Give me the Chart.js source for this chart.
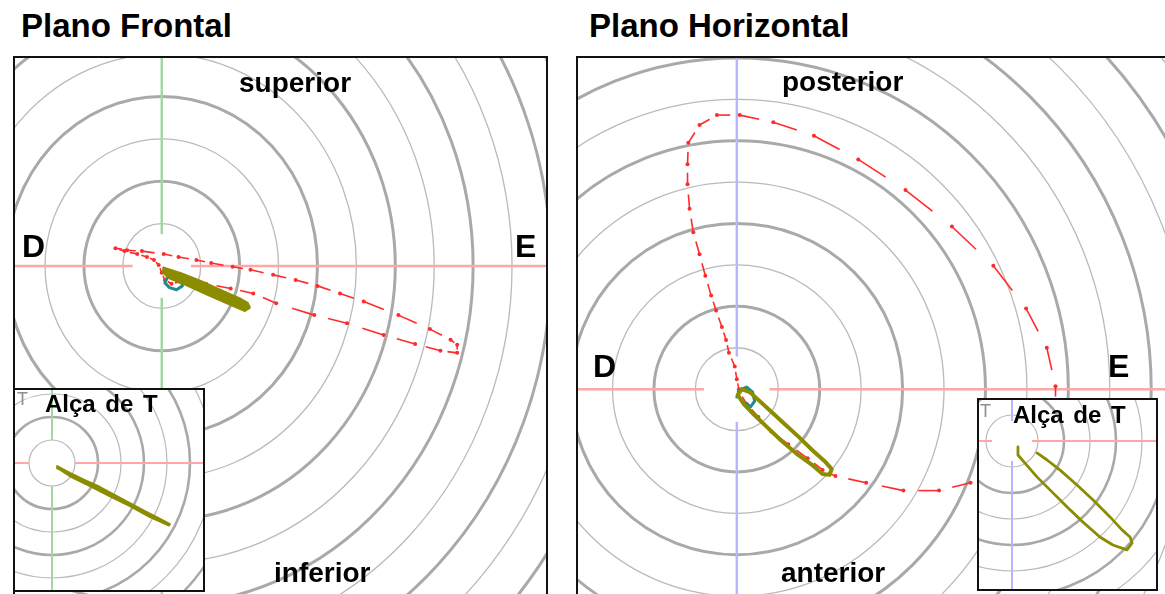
<!DOCTYPE html>
<html>
<head>
<meta charset="utf-8">
<script src="https://cdn.jsdelivr.net/npm/chart.js@4.4.1/dist/chart.umd.min.js"></script>
<style>
  html, body { margin: 0; padding: 0; background: #fff; }
  body { width: 1165px; height: 594px; overflow: hidden; position: relative; font-family: 'Liberation Sans', Arial, sans-serif; }
  canvas { position: absolute; display: block; }
  .lbl { position: absolute; font-weight: bold; line-height: 1; white-space: pre; color: #000; }
  .t { position: absolute; line-height: 1; color: #8e8e96; font-size: 18px; }
</style>
</head>
<body>
<canvas id="cF" width="543" height="560" style="left:9px;top:52px"></canvas>
<canvas id="cH" width="600" height="560" style="left:572px;top:52px"></canvas>
<canvas id="cFt" width="192" height="204" style="left:13px;top:388px"></canvas>
<canvas id="cHt" width="181" height="193" style="left:977px;top:398px"></canvas>

<div class="lbl" style="left:21px;top:9px;font-size:33px">Plano Frontal</div>
<div class="lbl" style="left:589px;top:9px;font-size:33px">Plano Horizontal</div>
<div class="lbl" style="left:239px;top:69px;font-size:28px">superior</div>
<div class="lbl" style="left:274px;top:559px;font-size:28px">inferior</div>
<div class="lbl" style="left:782px;top:68px;font-size:28px">posterior</div>
<div class="lbl" style="left:781px;top:559px;font-size:28px">anterior</div>
<div class="lbl" style="left:22px;top:230px;font-size:32px">D</div>
<div class="lbl" style="left:515px;top:230px;font-size:32px">E</div>
<div class="lbl" style="left:593px;top:350px;font-size:32px">D</div>
<div class="lbl" style="left:1108px;top:350px;font-size:32px">E</div>
<div class="t" style="left:17px;top:390px">T</div>
<div class="lbl" style="left:45px;top:392px;font-size:24px;word-spacing:3px">Alça de T</div>
<div class="t" style="left:980px;top:402px">T</div>
<div class="lbl" style="left:1013px;top:403px;font-size:24px;word-spacing:3px">Alça de T</div>

<script>
// loop samples in grid units (one unit = one ring of the grid)
const rings = [1, 2, 3, 4, 5, 6, 7, 8, 9, 10, 11, 12, 13, 14, 15, 16];

// Plano frontal: x = esquerda(+), y = superior(+)
const frontalQRS = [
  [0.13, -0.12], [0.63, -0.28], [1.14, -0.42], [1.77, -0.53], [2.35, -0.65],
  [2.94, -0.88], [3.92, -1.16], [4.76, -1.35], [5.70, -1.63], [6.51, -1.84],
  [7.16, -2.00], [7.59, -2.05], [7.59, -1.86], [7.42, -1.74], [6.89, -1.49],
  [6.08, -1.16], [5.19, -0.84], [4.58, -0.65], [4.00, -0.47], [3.44, -0.33],
  [2.86, -0.21], [2.28, -0.09], [1.82, -0.02], [1.27, 0.07], [0.89, 0.14],
  [0.43, 0.21], [0.05, 0.28], [-0.51, 0.35], [-0.89, 0.37], [-1.19, 0.42],
  [-0.96, 0.35], [-0.63, 0.28], [-0.38, 0.21], [-0.20, 0.14], [-0.08, 0.02],
  [0.00, -0.16], [0.08, -0.33], [0.25, -0.42], [0.46, -0.37]
];
const frontalST = [
  [0.15, -0.26], [0.08, -0.40], [0.20, -0.51], [0.38, -0.56],
  [0.53, -0.47], [0.51, -0.33], [0.33, -0.26], [0.15, -0.26]
];
const frontalT = [
  [0.05, -0.05], [0.51, -0.19], [1.01, -0.37], [1.52, -0.58], [2.03, -0.79],
  [2.20, -0.88], [2.25, -0.98], [2.13, -1.05], [1.65, -0.86], [1.14, -0.65],
  [0.63, -0.44], [0.20, -0.28], [0.05, -0.16], [0.05, -0.05]
];
const frontalTZoom = [
  [0.22, -0.13], [0.78, -0.43], [1.43, -0.74], [2.09, -1.04], [2.74, -1.39],
  [3.39, -1.74], [4.04, -2.09], [4.70, -2.43], [5.13, -2.65], [5.09, -2.72],
  [4.26, -2.36], [3.39, -1.88], [2.52, -1.45], [1.65, -1.01], [0.78, -0.58],
  [0.26, -0.24], [0.22, -0.13]
];

// Plano horizontal: x = esquerda(+), y = posterior(+)
const horizQRS = [
  [0.05, -0.05], [0.24, -0.36], [0.52, -0.67], [0.83, -1.02], [1.24, -1.33],
  [1.71, -1.67], [2.07, -1.95], [2.38, -2.10], [3.12, -2.26], [4.02, -2.45],
  [4.88, -2.45], [5.64, -2.26], [6.43, -1.95], [7.02, -1.55], [7.50, -0.95],
  [7.69, -0.36], [7.69, 0.07], [7.48, 1.00], [6.98, 1.95], [6.19, 2.98],
  [5.19, 3.93], [4.07, 4.81], [2.93, 5.55], [1.86, 6.12], [0.88, 6.45],
  [0.07, 6.62], [-0.48, 6.62], [-0.90, 6.38], [-1.17, 5.95], [-1.19, 5.43],
  [-1.19, 4.95], [-1.14, 4.36], [-1.05, 3.79], [-0.90, 3.26], [-0.76, 2.74],
  [-0.62, 2.26], [-0.50, 1.90], [-0.36, 1.50], [-0.26, 1.19], [-0.19, 0.88],
  [-0.05, 0.55], [0.00, 0.24], [0.05, 0.00]
];
const horizST = [
  [0.00, -0.19], [0.07, -0.02], [0.24, 0.05], [0.38, -0.07],
  [0.43, -0.29], [0.33, -0.43], [0.21, -0.33]
];
const horizT = [
  [0.12, 0.00], [0.02, -0.14], [0.17, -0.36], [0.40, -0.60], [0.71, -0.90],
  [1.07, -1.24], [1.43, -1.55], [1.79, -1.81], [2.07, -2.05], [2.24, -2.07],
  [2.29, -1.93], [2.12, -1.74], [1.83, -1.48], [1.48, -1.14], [1.12, -0.81],
  [0.76, -0.48], [0.50, -0.24], [0.31, -0.07], [0.12, 0.00]
];
const horizTZoom = [
  [0.23, -0.23], [0.23, -0.54], [0.50, -0.85], [0.96, -1.38], [1.46, -1.88],
  [2.12, -2.54], [2.73, -3.12], [3.38, -3.69], [3.88, -4.00], [4.42, -4.19],
  [4.62, -3.92], [4.54, -3.69], [4.23, -3.42], [3.77, -2.92], [3.12, -2.27],
  [2.50, -1.69], [1.85, -1.12], [1.35, -0.73], [0.96, -0.46]
];

const RED = '#ff2b2b', OLIVE = '#8c8c00', TEAL = '#1e8c8c';
const PINK = '#ffa6a6', GREEN = '#a2d6a2', BLUE = '#b6b6ff';

const pts = arr => arr.map(([x, y]) => ({ x, y }));

// grid rings + axis lines + frame
const vcgGrid = {
  id: 'vcgGrid',
  beforeDatasetsDraw(chart, args, o) {
    const { ctx, chartArea: a, scales: { x, y } } = chart;
    const cx = x.getPixelForValue(0), cy = y.getPixelForValue(0);
    const rx = x.getPixelForValue(1) - cx, ry = cy - y.getPixelForValue(1);
    ctx.save();
    ctx.fillStyle = '#fff';
    ctx.fillRect(a.left, a.top, a.width, a.height);
    ctx.beginPath();
    ctx.rect(a.left, a.top, a.width, a.height);
    ctx.clip();
    rings.forEach(r => {
      ctx.beginPath();
      ctx.ellipse(cx, cy, rx * r, ry * r, 0, 0, Math.PI * 2);
      ctx.lineWidth = r % 2 ? o.thin : o.thick;
      ctx.strokeStyle = r % 2 ? '#bababa' : '#a9a9a9';
      ctx.stroke();
    });
    const seg = (x0, y0, x1, y1) => { ctx.beginPath(); ctx.moveTo(x0, y0); ctx.lineTo(x1, y1); ctx.stroke(); };
    ctx.lineWidth = o.axis;
    ctx.strokeStyle = PINK;
    seg(a.left, cy, cx - o.gap * rx, cy);
    seg(cx + o.gap * rx, cy, a.right, cy);
    ctx.strokeStyle = o.vColor;
    seg(cx, a.top, cx, cy - o.gap * ry);
    seg(cx, cy + o.gap * ry, cx, a.bottom);
    ctx.restore();
  },
  afterDraw(chart) {
    const { ctx, chartArea: a } = chart;
    ctx.save();
    ctx.strokeStyle = '#111';
    ctx.lineWidth = 2;
    ctx.strokeRect(a.left + 1, a.top + 1, a.width - 2, a.height - 2);
    ctx.restore();
  }
};

// dashed arrow-like steps: each step ends in a dash reaching the next sample
const dashedLoop = (data) => ({
  data: pts(data),
  showLine: true,
  borderColor: RED,
  borderWidth: 1.6,
  pointRadius: 2,
  pointBackgroundColor: RED,
  pointBorderWidth: 0,
  tension: 0,
  segment: {
    borderDash: c => {
      const d = Math.hypot(c.p1.x - c.p0.x, c.p1.y - c.p0.y);
      return [0, d * 0.42, d * 0.58, d + 1];
    }
  }
});
const solidLoop = (data, color, w, filled) => ({
  data: pts(data),
  showLine: true,
  borderColor: color,
  backgroundColor: color,
  fill: filled ? 'shape' : false,
  borderWidth: w,
  pointRadius: 0,
  tension: 0,
  borderJoinStyle: 'round',
  borderCapStyle: 'round'
});

function makeChart(id, originX, originY, ux, uy, datasets, grid) {
  const cv = document.getElementById(id);
  const W = cv.width, H = cv.height;
  return new Chart(cv, {
    type: 'scatter',
    data: { datasets },
    options: {
      responsive: false,
      animation: false,
      events: [],
      layout: { padding: 0 },
      plugins: { legend: { display: false }, tooltip: { enabled: false }, vcgGrid: grid },
      scales: {
        x: { type: 'linear', display: false, min: -originX / ux, max: (W - originX) / ux },
        y: { type: 'linear', display: false, min: -(H - originY) / uy, max: originY / uy }
      }
    },
    plugins: [vcgGrid]
  });
}

makeChart('cF', 151, 213, 39.5, 43, [
  solidLoop(frontalT, OLIVE, 3, true),
  solidLoop(frontalST, TEAL, 3, false),
  dashedLoop(frontalQRS)
], { thin: 1.3, thick: 3, axis: 2.5, gap: 0.75, vColor: GREEN });

makeChart('cH', 163, 338, 42, 42, [
  solidLoop(horizT, OLIVE, 4, false),
  solidLoop(horizST, TEAL, 3, false),
  dashedLoop(horizQRS)
], { thin: 1.3, thick: 3, axis: 2.5, gap: 0.79, vColor: BLUE });

makeChart('cFt', 39, 75, 23, 23, [
  solidLoop(frontalTZoom, OLIVE, 1.8, true)
], { thin: 1.2, thick: 2.6, axis: 2, gap: 1.0, vColor: GREEN });

makeChart('cHt', 35, 43, 26, 26, [
  solidLoop(horizTZoom, OLIVE, 2.8, false)
], { thin: 1.2, thick: 2.6, axis: 2, gap: 0.77, vColor: BLUE });
</script>
</body>
</html>
